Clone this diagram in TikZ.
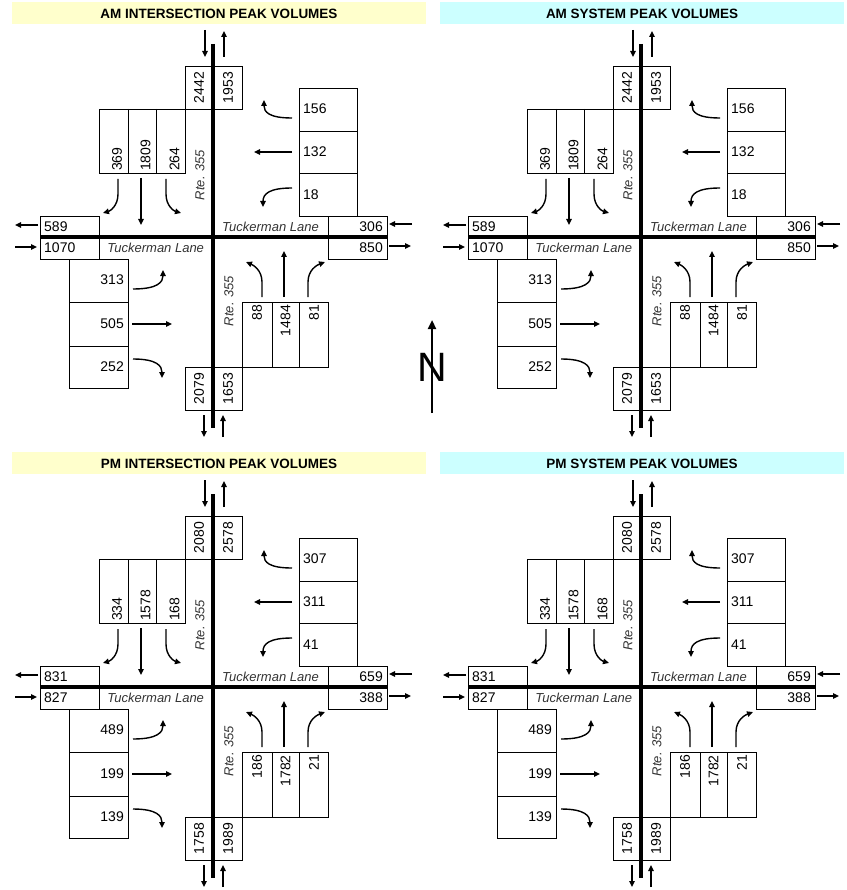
\documentclass[tikz,border=0pt]{standalone}
\usepackage{fontspec}
\setmainfont{Liberation Sans}
\usetikzlibrary{arrows.meta}
\definecolor{hdrY}{HTML}{FFFFCC}
\definecolor{hdrC}{HTML}{CCFFFF}
\definecolor{lbl}{HTML}{333333}
\tikzset{
 cell/.style={line width=0.9pt},
 road/.style={line width=3.5pt},
 flow/.style={line width=1.4pt,-{Triangle[length=6pt,width=5.5pt]}},
 num/.style={inner sep=0pt,font=\fontsize{14}{16}\selectfont},
 vnum/.style={num,rotate=90},
 street/.style={inner sep=0pt,font=\fontsize{13}{15}\selectfont\itshape,text=lbl},
 hdr/.style={inner sep=0pt,font=\fontsize{13.5}{16}\selectfont\bfseries},
}
\newcommand\quadrant[3]{\def\qp{#1}\def\qx{#2}\def\qy{#3}\quadA}
\newcommand\quadA[9]{\def\qNo{#1}\def\qNi{#2}\def\qSL{#3}\def\qST{#4}\def\qSR{#5}\def\qWR{#6}\def\qWT{#7}\def\qWL{#8}\def\qWo{#9}\quadB}
\newcommand\quadB[9]{\def\qWi{#1}\def\qEi{#2}\def\qEo{#3}\def\qEL{#4}\def\qET{#5}\def\qER{#6}\def\qSo{#7}\def\qSi{#8}\def\qNL{#9}\quadC}
\newcommand\quadC[2]{\def\qNT{#1}\def\qNR{#2}\quaddraw}
\newcommand\quaddraw{%
\begin{scope}[shift={(\qx,\qy)}]
 % cells
 \draw[cell] (185,66) rectangle (242,109);
 \draw[cell] (99,109) rectangle (185,173) (128,109) -- (128,173) (156,109) -- (156,173);
 \draw[cell] (299,88) rectangle (357,216) (299,131) -- (357,131) (299,173) -- (357,173);
 \draw[cell] (40,216) rectangle (99,259);
 \draw[cell] (328,216) rectangle (387,259);
 \draw[cell] (69,259) rectangle (128,388) (69,302) -- (128,302) (69,346) -- (128,346);
 \draw[cell] (185,367) rectangle (242,410);
 \draw[cell] (242,302) rectangle (328,367) (272,302) -- (272,367) (299,302) -- (299,367);
 % roads
 \draw[road] (213,44) -- (213,428);
 \draw[road] (40,237) -- (387,237);
 % numbers
 \node[vnum] (\qp-nout) at (199,87.5) {\qNo};
 \node[vnum] (\qp-nin) at (228,87.5) {\qNi};
 \node[vnum,anchor=west] (\qp-sbl) at (117,171) {\qSL};
 \node[vnum,anchor=west] (\qp-sbt) at (145.5,171) {\qST};
 \node[vnum,anchor=west] (\qp-sbr) at (174.5,171) {\qSR};
 \node[num,anchor=west] (\qp-wbr) at (303,109) {\qWR};
 \node[num,anchor=west] (\qp-wbt) at (303,152) {\qWT};
 \node[num,anchor=west] (\qp-wbl) at (303,195) {\qWL};
 \node[num,anchor=west] (\qp-wout) at (44,227) {\qWo};
 \node[num,anchor=west] (\qp-win) at (44,248) {\qWi};
 \node[num,anchor=east] (\qp-ein) at (383,227) {\qEi};
 \node[num,anchor=east] (\qp-eout) at (383,247.5) {\qEo};
 \node[num,anchor=east] (\qp-ebl) at (124,280) {\qEL};
 \node[num,anchor=east] (\qp-ebt) at (124,324) {\qET};
 \node[num,anchor=east] (\qp-ebr) at (124,367) {\qER};
 \node[vnum] (\qp-sout) at (199,388.5) {\qSo};
 \node[vnum] (\qp-sin) at (228,388.5) {\qSi};
 \node[vnum,anchor=east] (\qp-nbl) at (257,305) {\qNL};
 \node[vnum,anchor=east] (\qp-nbt) at (285.5,305) {\qNT};
 \node[vnum,anchor=east] (\qp-nbr) at (314,305) {\qNR};
 % street labels
 \node[street,rotate=90] (\qp-rte1) at (200,175) {Rte. 355};
 \node[street,rotate=90] (\qp-rte2) at (229,301) {Rte. 355};
 \node[street] (\qp-tl1) at (270.5,227) {Tuckerman Lane};
 \node[street] (\qp-tl2) at (155.7,248) {Tuckerman Lane};
 % arrows
 \draw[flow] (205,30) -- (205,57);
 \draw[flow] (224,57) -- (224,31);
 \draw[flow] (118,179) -- (118,194) .. controls (118,206) and (110,211) .. (103,213);
 \draw[flow] (141,178) -- (141,225);
 \draw[flow] (166,179) -- (166,194) .. controls (166,206) and (174,211) .. (181,213);
 \draw[flow] (38,225) -- (15,225);
 \draw[flow] (15,247) -- (37,247);
 \draw[flow] (133,289) .. controls (158,289) and (163,282) .. (163,270);
 \draw[flow] (132,324) -- (172,324);
 \draw[flow] (133,359) .. controls (157,359) and (162,366) .. (162,378);
 \draw[flow] (204,415) -- (204,437);
 \draw[flow] (223,437) -- (223,415);
 \draw[flow] (262,297) -- (262,282) .. controls (262,270) and (253,265) .. (246,262);
 \draw[flow] (284,297) -- (284,251);
 \draw[flow] (308,297) -- (308,282) .. controls (308,270) and (317,265) .. (325,262);
 \draw[flow] (292,118) .. controls (269,118) and (264,112) .. (264,100);
 \draw[flow] (292,152) -- (254,152);
 \draw[flow] (292,188) .. controls (269,188) and (263,194) .. (263,207);
 \draw[flow] (412,224) -- (389,224);
 \draw[flow] (389,246) -- (411,246);
\end{scope}}
\begin{document}
\begin{tikzpicture}[x=1pt,y=-1pt]
 \useasboundingbox (0,0) rectangle (846,890);
 % headers
 \fill[hdrY] (12,2) rectangle (426,24);
 \fill[hdrC] (440,2) rectangle (844,24);
 \fill[hdrY] (12,452) rectangle (426,474);
 \fill[hdrC] (440,452) rectangle (844,474);
 \node[hdr] (h1) at (219,13.5) {AM INTERSECTION PEAK VOLUMES};
 \node[hdr] (h2) at (642,13.5) {AM SYSTEM PEAK VOLUMES};
 \node[hdr] (h3) at (219,463.5) {PM INTERSECTION PEAK VOLUMES};
 \node[hdr] (h4) at (642,463.5) {PM SYSTEM PEAK VOLUMES};
 % quadrants
 \quadrant{ami}{0}{0}{2442}{1953}{369}{1809}{264}{156}{132}{18}{589}{1070}{306}{850}{313}{505}{252}{2079}{1653}{88}{1484}{81}
 \quadrant{ams}{428}{0}{2442}{1953}{369}{1809}{264}{156}{132}{18}{589}{1070}{306}{850}{313}{505}{252}{2079}{1653}{88}{1484}{81}
 \quadrant{pmi}{0}{450}{2080}{2578}{334}{1578}{168}{307}{311}{41}{831}{827}{659}{388}{489}{199}{139}{1758}{1989}{186}{1782}{21}
 \quadrant{pms}{428}{450}{2080}{2578}{334}{1578}{168}{307}{311}{41}{831}{827}{659}{388}{489}{199}{139}{1758}{1989}{186}{1782}{21}
 % north arrow
 \draw[line width=2.2pt,-{Triangle[length=9pt,width=8pt]}] (432,413) -- (432,320);
 \node[inner sep=0pt,font=\fontsize{41}{41}\selectfont] (north) at (432,367) {N};
\end{tikzpicture}
\end{document}
